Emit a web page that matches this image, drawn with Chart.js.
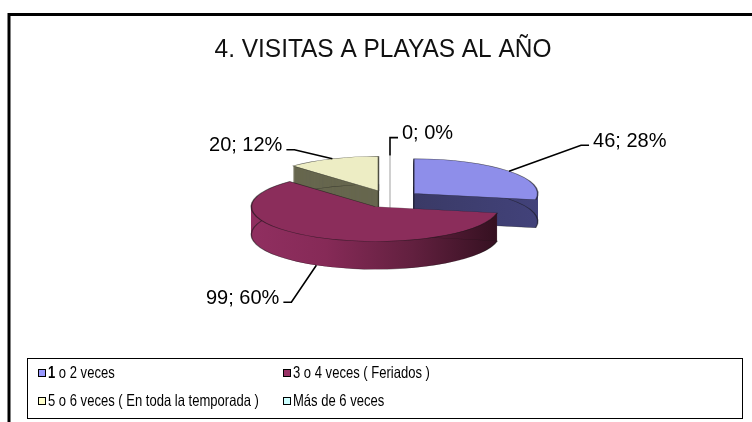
<!DOCTYPE html>
<html>
<head>
<meta charset="utf-8">
<script src="https://cdn.jsdelivr.net/npm/chart.js@4/dist/chart.umd.min.js"></script>
<style>
html,body{margin:0;padding:0;background:#fff;}
#wrap{position:relative;width:752px;height:422px;}
canvas{display:block;}
</style>
</head>
<body>
<div id="wrap"><canvas id="c" width="752" height="422"></canvas></div>
<script>
// ---- data ----
const chartTitle = '4. VISITAS A PLAYAS AL AÑO';
const categories = ['1 o 2 veces', '3 o 4 veces ( Feriados )', '5 o 6 veces ( En toda la temporada )', 'Más de 6 veces'];
const counts = [46, 99, 20, 0];

// ---- styling ----
const legendColors = ['#9999FF', '#993366', '#FFFFCC', '#CCFFFF'];
const topColors = ['#8E8EEA', '#8B2D5B', '#EDEDC4', '#CCFFFF'];
const sideColors = ['#3E3E6C', '#5A1A3A', '#67674F', '#9CCCCC'];
const FONT = '"Liberation Sans", Arial, sans-serif';
const TILT = 0.28, EXPLODE = 31, DEPTH = 28;
// leader offsets from slice anchor: [dx, dy, dir]
const leaderOffsets = [[72, -26, 1], [-25, 37, -1], [-38, -9, -1], [0, -18, 1]];
const drawOrder = [2, 3, 0, 1];

const total = counts.reduce((a, b) => a + b, 0);

function geom(arc) {
  const half = (arc.startAngle + arc.endAngle) / 2;
  return {half, ox: Math.cos(half) * EXPLODE, oy: Math.sin(half) * EXPLODE};
}
function toScreen(arc, ux, uy) {
  return [ux, arc.y + (uy - arc.y) * TILT];
}

function drawSlice(chart, arc, idx) {
  const ctx = chart.ctx;
  const cy = arc.y;
  const {ox, oy} = geom(arc);
  if (arc.circumference === 0) {
    // zero-size slice: its wall is seen edge-on as a thin line
    const ax = arc.x + ox, ay = arc.y + oy;
    const [x1, y1] = toScreen(arc, ax + Math.cos(arc.startAngle) * arc.outerRadius, ay + Math.sin(arc.startAngle) * arc.outerRadius);
    const [x0, y0] = toScreen(arc, ax, ay);
    ctx.save();
    ctx.strokeStyle = '#C4C4C4';
    ctx.lineWidth = 1.6;
    ctx.beginPath();
    ctx.moveTo(x1, y1);
    ctx.lineTo(x0, y0 + DEPTH);
    ctx.stroke();
    ctx.restore();
    return;
  }
  const orig = arc.options;
  ctx.save();
  ctx.translate(0, cy); ctx.scale(1, TILT); ctx.translate(0, -cy);
  ctx.translate(ox, oy);
  let side = sideColors[idx];
  const R = arc.outerRadius;
  if (idx === 1) {
    const g = ctx.createLinearGradient(arc.x - R, 0, arc.x + R, 0);
    g.addColorStop(0, '#902F60');
    g.addColorStop(0.3, '#862A57');
    g.addColorStop(0.65, '#62203F');
    g.addColorStop(1, '#341020');
    side = g;
  } else if (idx === 0) {
    const g = ctx.createLinearGradient(arc.x, 0, arc.x + R, 0);
    g.addColorStop(0, '#3A3A66');
    g.addColorStop(1, '#42427A');
    side = g;
  }
  arc.options = Object.assign({}, orig, {backgroundColor: side, borderWidth: 0});
  for (let s = DEPTH; s >= 0.5; s -= 0.5) {
    ctx.save();
    ctx.translate(0, s / TILT);
    arc.draw(ctx);
    ctx.restore();
  }
  // bottom edge outline
  ctx.save();
  ctx.translate(0, DEPTH / TILT);
  arc.options = Object.assign({}, orig, {backgroundColor: 'rgba(0,0,0,0)', borderWidth: 1.4, borderColor: 'rgba(20,20,20,0.55)'});
  arc.draw(ctx);
  ctx.restore();
  // top face
  arc.options = Object.assign({}, orig, {borderWidth: 1.6, borderColor: 'rgba(20,20,20,0.6)'});
  arc.draw(ctx);
  arc.options = orig;
  ctx.restore();
}

function condensedText(ctx, text, x, y, sx) {
  ctx.save();
  ctx.translate(x, y);
  ctx.scale(sx, 1);
  ctx.fillText(text, 0, 0);
  ctx.restore();
}

const pie3d = {
  id: 'pie3d',
  beforeDatasetsDraw(chart) {
    const arcs = chart.getDatasetMeta(0).data;
    drawOrder.forEach(i => drawSlice(chart, arcs[i], i));
    return false;
  },
  afterDraw(chart) {
    const ctx = chart.ctx;
    const arcs = chart.getDatasetMeta(0).data;
    // outer frame
    ctx.save();
    ctx.strokeStyle = '#000';
    ctx.lineWidth = 3;
    ctx.beginPath();
    ctx.moveTo(9, 422);
    ctx.lineTo(9, 14.5);
    ctx.lineTo(752, 14.5);
    ctx.stroke();
    ctx.restore();

    // title
    ctx.save();
    ctx.fillStyle = '#111';
    ctx.font = '26px ' + FONT;
    ctx.textAlign = 'center';
    ctx.textBaseline = 'middle';
    ctx.translate(383, 50);
    ctx.scale(0.94, 1);
    ctx.fillText(chartTitle, 0, 0);
    ctx.restore();

    // data labels with leader lines
    ctx.save();
    ctx.font = '20px ' + FONT;
    ctx.fillStyle = '#000';
    ctx.strokeStyle = '#000';
    ctx.lineWidth = 1.6;
    ctx.textBaseline = 'middle';
    arcs.forEach((arc, i) => {
      const {ox, oy, half} = geom(arc);
      let [ax, ay] = toScreen(arc, arc.x + ox + Math.cos(half) * arc.outerRadius, arc.y + oy + Math.sin(half) * arc.outerRadius);
      if (Math.sin(half) > 0.3) ay += DEPTH;
      const [dx, dy, dir] = leaderOffsets[i];
      const ex = ax + dx, ey = ay + dy;
      ctx.beginPath();
      ctx.moveTo(ax, ay);
      ctx.lineTo(ex, ey);
      ctx.lineTo(ex + dir * 8, ey);
      ctx.stroke();
      const pct = Math.round(counts[i] / total * 100);
      const txt = counts[i] + '; ' + pct + '%';
      ctx.textAlign = dir > 0 ? 'left' : 'right';
      ctx.fillText(txt, ex + dir * 12, ey - 4);
    });
    ctx.restore();

    // legend box
    ctx.save();
    ctx.strokeStyle = '#000';
    ctx.lineWidth = 1;
    ctx.strokeRect(27.5, 358.5, 715, 60);
    const cols = [38, 283], rows = [373, 401];
    ctx.textBaseline = 'middle';
    ctx.textAlign = 'left';
    const SX = 0.79;
    categories.forEach((label, i) => {
      const x = cols[i % 2], y = rows[Math.floor(i / 2)];
      ctx.fillStyle = legendColors[i];
      ctx.fillRect(x, y - 4, 8, 8);
      ctx.strokeStyle = '#000';
      ctx.strokeRect(x + 0.5, y - 3.5, 7, 7);
      ctx.fillStyle = '#000';
      let tx = x + 10;
      let rest = label;
      if (i === 0) {
        ctx.font = 'bold 16.5px ' + FONT;
        condensedText(ctx, label[0], tx, y, SX);
        tx += ctx.measureText(label[0]).width * SX;
        rest = label.slice(1);
      }
      ctx.font = '16.5px ' + FONT;
      condensedText(ctx, rest, tx, y, SX);
    });
    ctx.restore();
  }
};

new Chart(document.getElementById('c'), {
  type: 'pie',
  data: {
    labels: categories,
    datasets: [{
      data: counts,
      backgroundColor: topColors,
      borderWidth: 0,
      radius: 124
    }]
  },
  options: {
    responsive: false,
    animation: false,
    layout: {padding: {left: 260, right: 232, top: 69, bottom: 93}},
    plugins: {
      legend: {display: false},
      title: {display: false},
      tooltip: {enabled: false}
    }
  },
  plugins: [pie3d]
});
</script>
</body>
</html>
